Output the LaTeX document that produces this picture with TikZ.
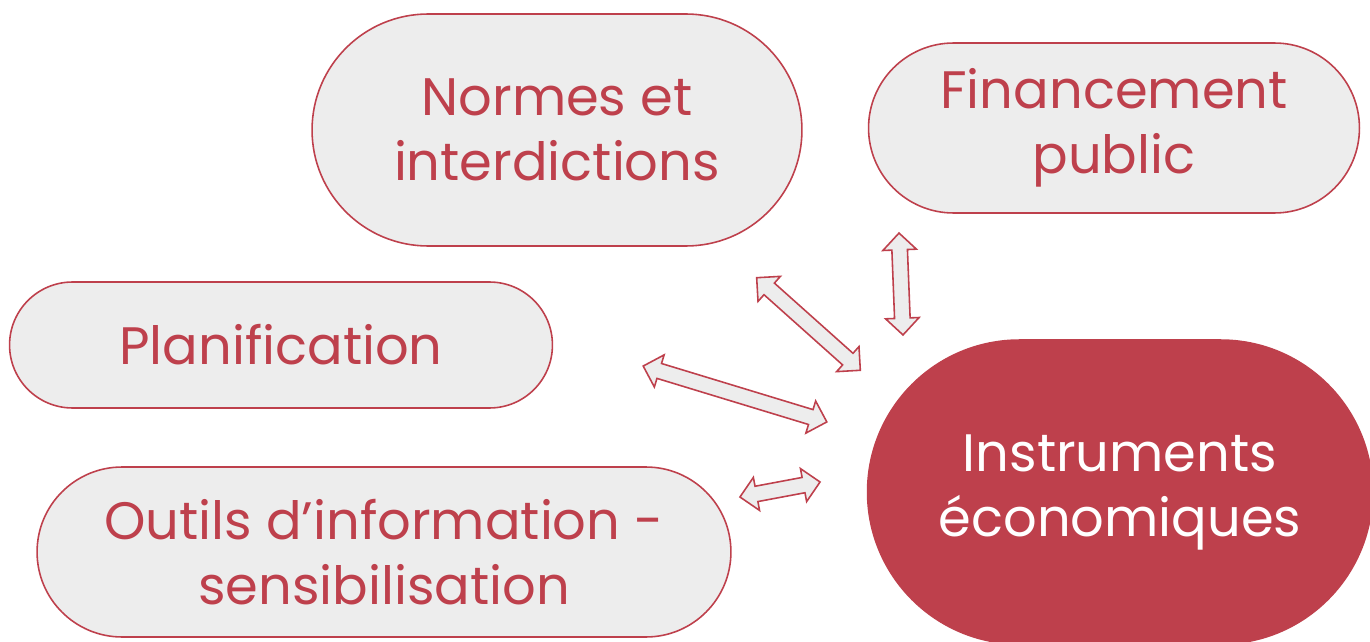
\documentclass[tikz,border=0pt]{standalone}
\usepackage{fontspec}
\setmainfont{Poppins}
\usetikzlibrary{shapes.misc,shapes.arrows}
\definecolor{rougeinst}{RGB}{190,64,76}
\definecolor{grisfond}{RGB}{237,237,237}

\begin{document}
\begin{tikzpicture}[
  x=0.02cm, y=-0.02cm,
  pill/.style={rounded rectangle, draw=rougeinst, line width=0.9pt, fill=grisfond,
               text=rougeinst, align=center, inner sep=0pt,
               font=\fontsize{30}{37}\selectfont},
  dblarrow/.style={double arrow, draw=rougeinst, line width=0.9pt, fill=grisfond,
                   inner xsep=0pt, inner ysep=0.14cm, double arrow head extend=0.18cm,
                   double arrow tip angle=90, sloped}
]
\useasboundingbox (0,0) rectangle (1370,642);

% --- Surrounding instruments ---
\node[pill, minimum width=9.8cm, minimum height=4.64cm] (normes) at (557,130)
  {Normes et\\interdictions};
\node[pill, minimum width=9.82cm, minimum height=3.4cm] (finance) at (1114,128)
  {Financement\\public};
\node[pill, minimum width=10.86cm, minimum height=2.52cm] (planif) at (281,345)
  {Planification};
\node[pill, minimum width=13.88cm, minimum height=3.4cm] (outils) at (384,552)
  {Outils d’information -\\sensibilisation};

% --- Central node ---
\node[pill, fill=rougeinst, text=white, minimum width=10.1cm, minimum height=6.08cm]
  (instr) at (1120,492) {Instruments\\économiques};

% --- Double arrows ---
\coordinate (a1s) at (757,278);  \coordinate (a1e) at (860,370);
\coordinate (a2s) at (899,233);  \coordinate (a2e) at (903,335);
\coordinate (a3s) at (643,366);  \coordinate (a3e) at (827,422);
\coordinate (a4s) at (740,497);  \coordinate (a4e) at (820,482);

\path (a1s) -- node[dblarrow, minimum height=2.78cm] (fl1) {} (a1e);
\path (a2s) -- node[dblarrow, minimum height=2.04cm] (fl2) {} (a2e);
\path (a3s) -- node[dblarrow, minimum height=3.84cm] (fl3) {} (a3e);
\path (a4s) -- node[dblarrow, minimum height=1.63cm] (fl4) {} (a4e);

\end{tikzpicture}
\end{document}
